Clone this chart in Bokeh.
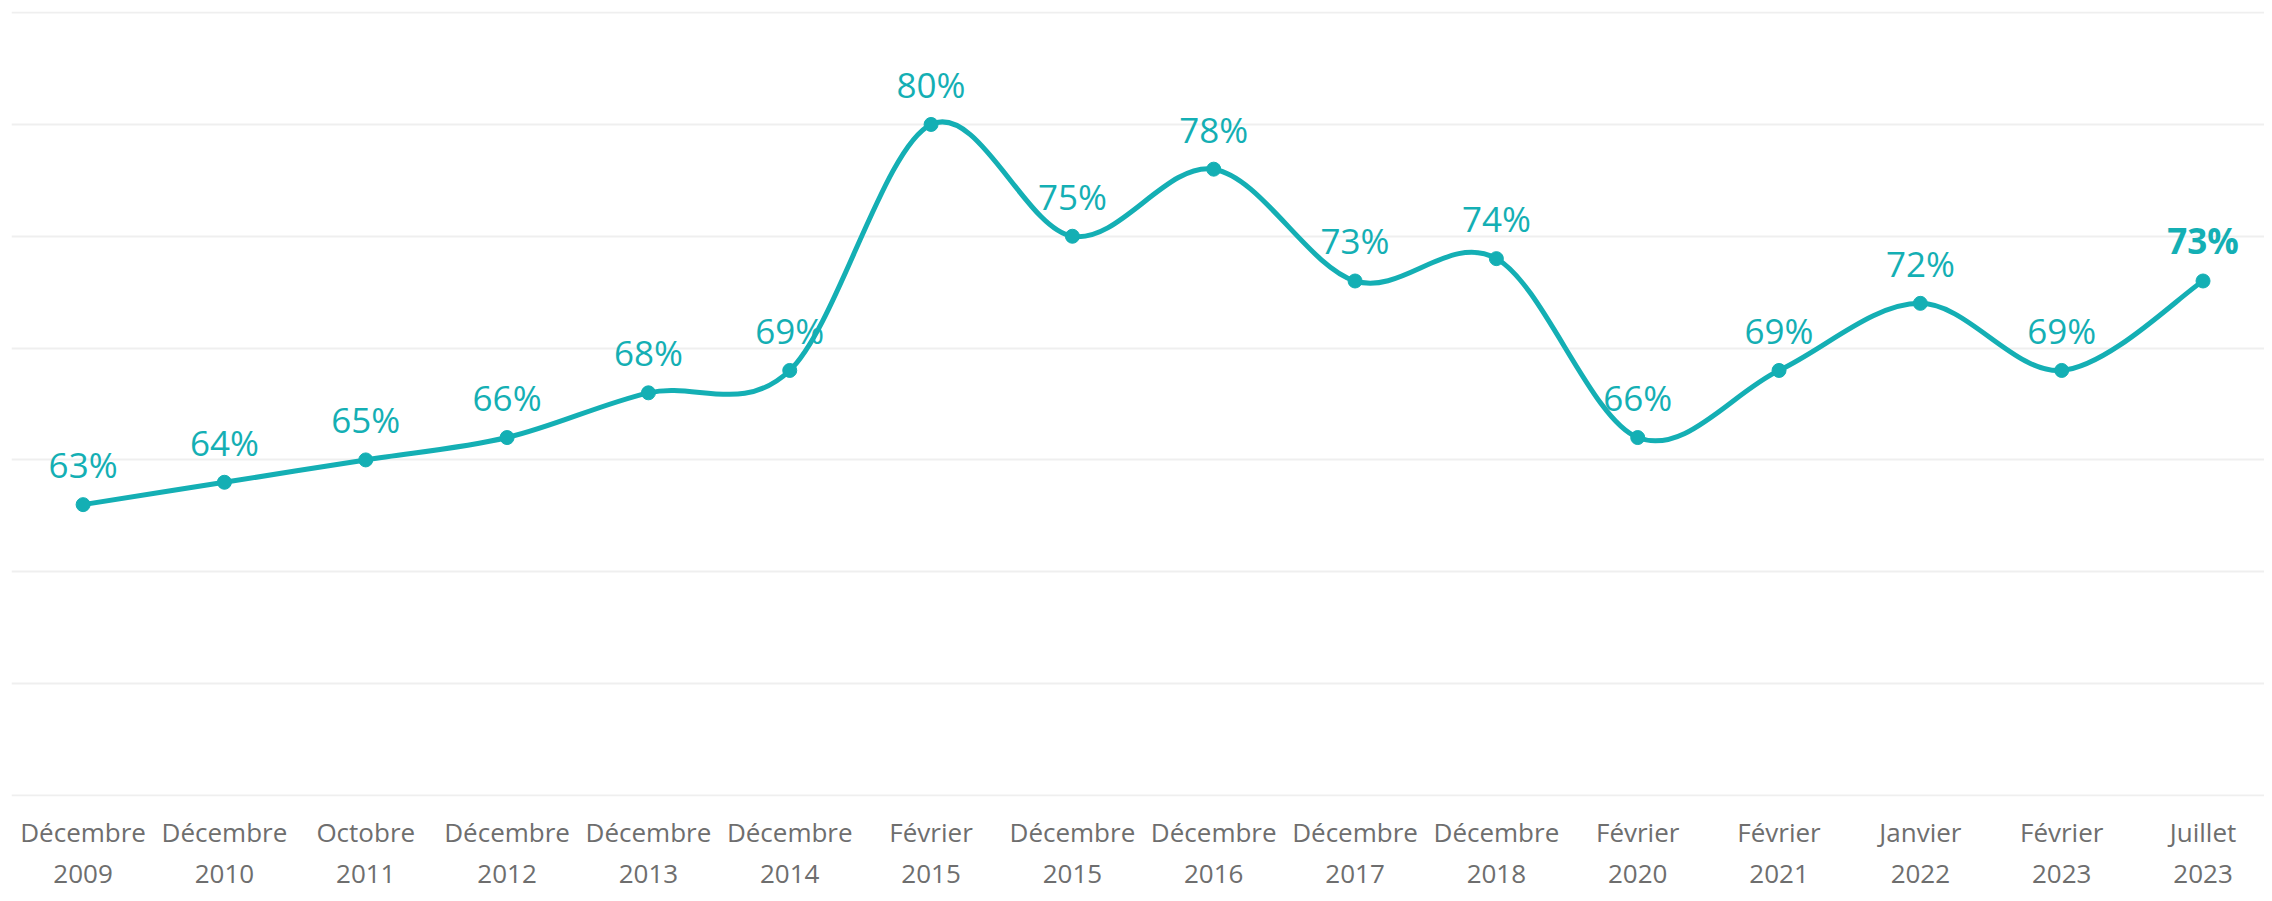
from bokeh.plotting import figure
from bokeh.models import FixedTicker, ColumnDataSource
from bokeh.core.properties import value
from bokeh.embed import file_html
from bokeh.resources import INLINE

months = ["Décembre", "Décembre", "Octobre", "Décembre", "Décembre", "Décembre", "Février",
          "Décembre", "Décembre", "Décembre", "Décembre", "Février", "Février", "Janvier",
          "Février", "Juillet"]
years = ["2009", "2010", "2011", "2012", "2013", "2014", "2015", "2015", "2016", "2017",
         "2018", "2020", "2021", "2022", "2023", "2023"]
values = [63, 64, 65, 66, 68, 69, 80, 75, 78, 73, 74, 66, 69, 72, 69, 73]
y_ticks = [50, 55, 60, 65, 70, 75, 80, 85]

TEAL = "#14afb4"
xs = list(range(len(values)))

p = figure(width=2264, height=893, output_backend="svg", toolbar_location=None,
           x_range=(-0.5066, 15.435), y_range=(49.95, 85.05),
           min_border_left=11, min_border_right=0, min_border_top=11, min_border_bottom=93)
p.outline_line_color = None
p.background_fill_color = "white"
p.border_fill_color = "white"

# smooth curve (Catmull-Rom converted to cubic Bezier segments)
n = len(values)
x0, y0, x1, y1, cx0, cy0, cx1, cy1 = [], [], [], [], [], [], [], []
for i in range(n - 1):
    pm = i - 1 if i > 0 else i
    pn = i + 2 if i + 2 < n else i + 1
    x0.append(xs[i]); y0.append(values[i])
    x1.append(xs[i + 1]); y1.append(values[i + 1])
    cx0.append(xs[i] + (xs[i + 1] - xs[pm]) / 6.0)
    cy0.append(values[i] + (values[i + 1] - values[pm]) / 6.0)
    cx1.append(xs[i + 1] - (xs[pn] - xs[i]) / 6.0)
    cy1.append(values[i + 1] - (values[pn] - values[i]) / 6.0)
p.bezier(x0=x0, y0=y0, x1=x1, y1=y1, cx0=cx0, cy0=cy0, cx1=cx1, cy1=cy1,
         line_color=TEAL, line_width=5)

p.scatter(xs, values, size=14, fill_color=TEAL, line_color=TEAL)

labels = [f"{v}%" for v in values]
src = ColumnDataSource(dict(x=xs[:-1], y=values[:-1], t=labels[:-1]))
p.text(x="x", y="y", text="t", source=src, text_align="center", text_baseline="alphabetic",
       y_offset=-40, text_color=TEAL, text_font=value("Open Sans"), text_font_size="35px")
p.text(x=[xs[-1]], y=[values[-1]], text=[labels[-1]], text_align="center",
       text_baseline="alphabetic", y_offset=-40, text_color=TEAL,
       text_font=value("Open Sans"), text_font_size="35px", text_font_style="bold")

p.xgrid.grid_line_color = None
p.ygrid.ticker = FixedTicker(ticks=y_ticks)
p.ygrid.grid_line_color = "#efefef"
p.ygrid.grid_line_width = 2
p.yaxis.visible = False

p.xaxis.ticker = FixedTicker(ticks=xs)
p.xaxis.major_label_overrides = {i: f"{m}\n{y}" for i, (m, y) in enumerate(zip(months, years))}
p.xaxis.axis_line_color = None
p.xaxis.major_tick_line_color = None
p.xaxis.minor_tick_line_color = None
p.xaxis.major_tick_out = 0
p.xaxis.major_tick_in = 0
p.xaxis.axis_label_standoff = 0
p.xaxis.major_label_text_font = "Open Sans"
p.xaxis.major_label_text_font_size = "26px"
p.xaxis.major_label_text_color = "#6e6e6e"
p.xaxis.major_label_text_line_height = 1.15
p.xaxis.major_label_standoff = 17

open("out.html", "w").write(file_html(p, INLINE))
